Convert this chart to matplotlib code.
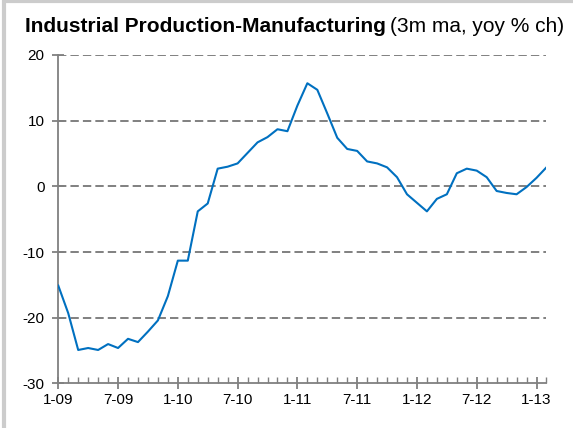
import matplotlib
matplotlib.use("Agg")
import matplotlib.pyplot as plt
from matplotlib.patches import Rectangle
from matplotlib.ticker import MultipleLocator

plt.rcParams['font.family'] = ['Liberation Sans', 'DejaVu Sans']

# monthly readings, Jan 2009 .. Feb 2013
ip_manuf = [
    -15.1, -19.3, -24.9, -24.6, -24.9, -24.0, -24.6, -23.2, -23.7, -22.1,
    -20.4, -16.7, -11.3, -11.3, -3.8, -2.6, 2.7, 3.0, 3.5, 5.1,
    6.7, 7.5, 8.7, 8.4, 12.3, 15.7, 14.7, 11.1, 7.4, 5.7,
    5.4, 3.8, 3.5, 2.9, 1.4, -1.2, -2.5, -3.8, -1.9, -1.2,
    2.0, 2.7, 2.4, 1.4, -0.7, -1.0, -1.2, -0.1, 1.3, 2.9,
]
tick_labels = ['1-09', '7-09', '1-10', '7-10', '1-11', '7-11', '1-12', '7-12', '1-13']
y_ticks = [-30, -20, -10, 0, 10, 20]

grey = '#808080'

fig = plt.figure(figsize=(5.73, 4.28), dpi=100)
ax = fig.add_axes([0.1017, 0.104, 0.852, 0.7675])

# light frame around the chart area
fig.patches.append(Rectangle((4 / 573, -0.05), 1.2, 1.05 - 1 / 428, transform=fig.transFigure,
                             fill=False, edgecolor='#cccccc', linewidth=3.0))

months = list(range(len(ip_manuf)))
ax.plot(months, ip_manuf, color='#0070c0', linewidth=1.5, zorder=3)

for y in y_ticks[1:]:
    ax.axhline(y, color=grey, linewidth=1.4, linestyle=(0, (4.3, 2.1)), zorder=1)

ax.set_xlim(0, len(ip_manuf) - 1)
ax.set_ylim(-30, 20)
ax.set_yticks(y_ticks)
ax.set_yticklabels([str(v) for v in y_ticks])
ax.set_xticks(range(0, len(ip_manuf), 6))
ax.set_xticklabels(tick_labels)
ax.xaxis.set_minor_locator(MultipleLocator(1))

for side in ['top', 'right']:
    ax.spines[side].set_visible(False)
for side in ['left', 'bottom']:
    ax.spines[side].set_color(grey)
    ax.spines[side].set_linewidth(1.3)

ax.tick_params(axis='both', which='major', direction='inout', length=8, width=1.3,
               color=grey, labelsize=11, labelcolor='black')
ax.tick_params(axis='x', which='minor', direction='in', length=4, width=1.0, color=grey)
ax.tick_params(axis='y', pad=6)
ax.tick_params(axis='x', pad=3)

# title: bold name followed by plain description
t1 = fig.text(25 / 573, 1 - 32 / 428, 'Industrial Production-Manufacturing',
              fontsize=15, fontweight='bold', ha='left', va='baseline')
fig.canvas.draw()
bb = t1.get_window_extent()
fig.text((bb.x1 + 4) / 573, 1 - 32 / 428, '(3m ma, yoy % ch)',
         fontsize=15, ha='left', va='baseline')

fig.savefig('out.png', dpi=100)
